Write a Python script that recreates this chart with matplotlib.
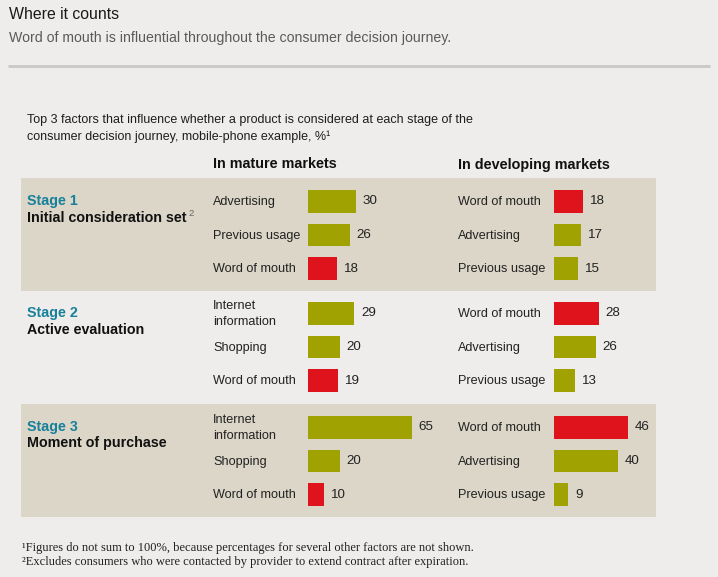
import matplotlib
matplotlib.use("Agg")
import matplotlib.pyplot as plt
from matplotlib.patches import Rectangle

# ---------------- data ----------------
stage_labels = ["Stage 1", "Stage 2", "Stage 3"]
stage_names = ["Initial consideration set", "Active evaluation", "Moment of purchase"]
stage_notes = ["2", "", ""]

mature_factors = [
    ["Advertising", "Previous usage", "Word of mouth"],
    ["Internet\ninformation", "Shopping", "Word of mouth"],
    ["Internet\ninformation", "Shopping", "Word of mouth"],
]
mature_values = [[30, 26, 18], [29, 20, 19], [65, 20, 10]]

developing_factors = [
    ["Word of mouth", "Advertising", "Previous usage"],
    ["Word of mouth", "Advertising", "Previous usage"],
    ["Word of mouth", "Advertising", "Previous usage"],
]
developing_values = [[18, 17, 15], [28, 26, 13], [46, 40, 9]]

title = "Where it counts"
subtitle = "Word of mouth is influential throughout the consumer decision journey."
description = ("Top 3 factors that influence whether a product is considered at each stage of the\n"
               "consumer decision journey, mobile-phone example, %\u00b9")
col_headers = ["In mature markets", "In developing markets"]
footnotes = ["\u00b9Figures do not sum to 100%, because percentages for several other factors are not shown.",
             "\u00b2Excludes consumers who were contacted by provider to extend contract after expiration."]

# ---------------- style ----------------
W, H = 718, 577
BG = "#eeedeb"
PANEL = "#dbd6c7"
OLIVE = "#9fa200"
RED = "#df131b"
TEAL = "#17809a"
SANS = ["Liberation Sans", "DejaVu Sans"]
SERIF = ["Liberation Serif", "DejaVu Serif"]

fig = plt.figure(figsize=(W / 100, H / 100), dpi=100, facecolor=BG)
ax0 = fig.add_axes([0, 0, 1, 1])
ax0.set_xlim(0, W)
ax0.set_ylim(H, 0)
ax0.axis("off")
ax0.set_facecolor(BG)

# header
ax0.text(9, 14.5, title, fontsize=11.4, color="#1a1a1a", family=SANS, va="center", ha="left")
ax0.text(9, 38, subtitle, fontsize=10.2, color="#5a5a5a", family=SANS, va="center", ha="left")
ax0.plot([8, 710], [66, 66], color="#c9c8c6", lw=2, solid_capstyle="butt")

ax0.text(27, 128.5, description, fontsize=9.0, color="#1e1e1e", family=SANS,
         va="center", ha="left", linespacing=1.45)

col_label_x = [213, 458]
for x, t in zip(col_label_x, col_headers):
    ax0.text(x, 164.5, t, fontsize=10.4, fontweight="bold", color="#111111",
             family=SANS, va="center", ha="left")

stage_tops = [178, 290, 404]
stage_h = 113
row_off = 23.3
row_gap = 33.7
panel_left, panel_right = 21, 656

for i, top in enumerate(stage_tops):
    if i != 1:
        ax0.add_patch(Rectangle((panel_left, top), panel_right - panel_left, stage_h,
                                facecolor=PANEL, edgecolor="none", zorder=0))

# bar axes: x in percent units, y in figure pixels (layout)
px_per_unit = 1.6
bar_starts = [308, 554]
span = 80
bar_axes = []
for xs in bar_starts:
    ax = fig.add_axes([xs / W, 0, span * px_per_unit / W, 1])
    ax.set_xlim(0, span)
    ax.set_ylim(H, 0)
    ax.axis("off")
    ax.patch.set_alpha(0)
    bar_axes.append(ax)

renderer = fig.canvas.get_renderer()

for i, top in enumerate(stage_tops):
    ys = [top + row_off + k * row_gap for k in range(3)]
    # stage label
    ax0.text(27, top + 23.5, stage_labels[i], fontsize=10.3, fontweight="bold", color=TEAL,
             family=SANS, va="center", ha="left")
    nm = ax0.text(27, top + 39.5, stage_names[i], fontsize=10.3, fontweight="bold", color="#111111",
                  family=SANS, va="center", ha="left")
    if stage_notes[i]:
        bb = nm.get_window_extent(renderer)
        ax0.text(bb.x1 + 1.5, top + 36, stage_notes[i], fontsize=6.8, color="#666666",
                 family=SANS, va="center", ha="left")
    for ax, factors, values, lx in ((bar_axes[0], mature_factors[i], mature_values[i], col_label_x[0]),
                                    (bar_axes[1], developing_factors[i], developing_values[i], col_label_x[1])):
        colors = [RED if f == "Word of mouth" else OLIVE for f in factors]
        ax.barh(ys, values, height=22.5, color=colors, edgecolor="none")
        for y, f, v in zip(ys, factors, values):
            ax.annotate(str(v), xy=(v, y), xytext=(4.8, 0), textcoords="offset points",
                        fontsize=9.6, color="#222222", family=SANS, va="center", ha="left")
            ax0.text(lx, y + 0.5, f, fontsize=9.1, color="#222222", family=SANS, va="center", ha="left",
                     linespacing=1.4)

for k, fn in enumerate(footnotes):
    ax0.text(22, 548 + k * 13.5, fn, fontsize=9.0, color="#222222", family=SERIF,
             va="center", ha="left")

fig.savefig("out.png", dpi=100, facecolor=BG)
